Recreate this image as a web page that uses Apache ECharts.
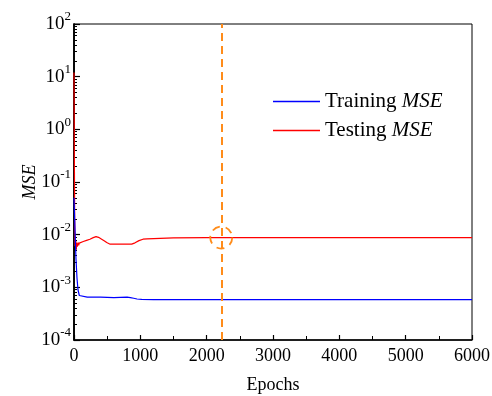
<!DOCTYPE html>
<html>
<head>
    <meta charset="utf-8">
    <script src="https://cdn.jsdelivr.net/npm/echarts@6/dist/echarts.min.js"></script>
    <style>
        html, body { margin: 0; padding: 0; background: #fff; }
        #main { width: 492px; height: 396px; }
    </style>
</head>
<body>
    <div id="main"></div>
    <script>
        // Training MSE (blue)
        var trainEpochs = [0, 10, 20, 30, 45, 60, 80, 100, 200, 400, 600, 800, 850, 900, 950, 1020, 1200, 2000, 3000, 4000, 5000, 6000];
        var trainMSE = [0.05, 0.02, 0.008, 0.0035, 0.0015, 0.0009, 0.0007, 0.00066, 0.00065, 0.00065, 0.00064, 0.00065, 0.00064, 0.00062, 0.0006, 0.00059, 0.000585, 0.000585, 0.000585, 0.000585, 0.000585, 0.000585];

        // Testing MSE (red)
        var testEpochs = [0, 5, 10, 15, 20, 25, 30, 35, 40, 50, 60, 70, 80, 100, 140, 190, 240, 290, 332, 370, 417, 460, 493, 515, 545, 700, 870, 920, 980, 1040, 1100, 1300, 1500, 2000, 3000, 4000, 5000, 6000];
        var testMSE = [12, 0.4, 0.02, 0.006, 0.008, 0.0055, 0.0075, 0.0052, 0.0068, 0.0059, 0.0071, 0.0063, 0.0069, 0.0068, 0.0074, 0.0078, 0.0082, 0.0088, 0.0092, 0.0089, 0.0082, 0.0076, 0.0071, 0.0068, 0.0066, 0.0066, 0.0066, 0.007, 0.0077, 0.0082, 0.0083, 0.0085, 0.0087, 0.0088, 0.0088, 0.0088, 0.0088, 0.0088];

        var yExponents = [-4, -3, -2, -1, 0, 1, 2];
        var markEpoch = 2220;
        var markValue = 0.0088;

        var font = 'Liberation Serif';
        var orange = '#ff8c1a';

        function pair(xs, ys) {
            return xs.map(function (x, i) { return [x, ys[i]]; });
        }

        // minor log ticks: 2..9 times each decade
        var minorTicks = [];
        yExponents.slice(0, -1).forEach(function (e) {
            for (var k = 2; k <= 9; k++) {
                minorTicks.push(+(k * Math.pow(10, e)).toPrecision(3));
            }
        });

        var chart = echarts.init(document.getElementById('main'));

        var option = {
            animation: false,
            textStyle: { fontFamily: font, color: '#000' },
            grid: {
                left: 74, right: 20, top: 24, bottom: 56,
                outerBoundsMode: 'none',
                show: true, borderColor: '#000', borderWidth: 1
            },
            legend: {
                orient: 'vertical',
                left: 268,
                top: 86,
                icon: 'rect',
                itemWidth: 47,
                itemHeight: 1.5,
                itemGap: 8,
                data: ['Training MSE', 'Testing MSE'],
                formatter: function (name) {
                    return '{n|' + name.replace(' MSE', ' ') + '}{i|MSE}';
                },
                textStyle: {
                    rich: {
                        n: { fontFamily: font, fontSize: 21, color: '#000', lineHeight: 20 },
                        i: { fontFamily: font, fontSize: 21, fontStyle: 'italic', color: '#000', lineHeight: 20 }
                    }
                }
            },
            xAxis: {
                type: 'value',
                min: 0,
                max: 6000,
                interval: 1000,
                name: 'Epochs',
                nameLocation: 'middle',
                nameGap: 36,
                nameMoveOverlap: false,
                nameTextStyle: { fontFamily: font, fontSize: 18, color: '#000' },
                axisLine: { onZero: false, lineStyle: { color: '#000', width: 1.5 } },
                axisTick: { inside: true, length: 5, lineStyle: { color: '#000', width: 1.2 } },
                minorTick: { show: true, splitNumber: 2, length: 4, lineStyle: { color: '#000', width: 1 } },
                axisLabel: {
                    fontFamily: font, fontSize: 18, color: '#000', margin: 7,
                    formatter: function (v) { return String(v); }
                },
                splitLine: { show: false }
            },
            yAxis: [{
                type: 'log',
                logBase: 10,
                min: 1e-4,
                max: 1e2,
                name: 'MSE',
                nameLocation: 'middle',
                nameGap: 35,
                nameMoveOverlap: false,
                nameTextStyle: { fontFamily: font, fontSize: 18, fontStyle: 'italic', color: '#000' },
                axisLine: { lineStyle: { color: '#000', width: 1.5 } },
                axisTick: { inside: true, length: 6, lineStyle: { color: '#000', width: 1.2 } },
                axisLabel: {
                    margin: 3,
                    formatter: function (v) {
                        return '{b|10}{s|' + Math.round(Math.log10(v)) + '}';
                    },
                    rich: {
                        b: { fontFamily: font, fontSize: 19, color: '#000', lineHeight: 27 },
                        s: { fontFamily: font, fontSize: 13, color: '#000', lineHeight: 13, verticalAlign: 'top' }
                    }
                },
                splitLine: { show: false }
            }, {
                // second log axis, only for the minor ticks 2..9 of each decade
                type: 'log',
                logBase: 10,
                position: 'left',
                min: 1e-4,
                max: 1e2,
                axisLine: { show: true, lineStyle: { color: '#000', width: 1.5 } },
                axisLabel: {
                    show: true,
                    hideOverlap: false,
                    customValues: minorTicks,
                    fontSize: 2,
                    color: 'rgba(255,255,255,0)',
                    formatter: function () { return '.'; }
                },
                splitLine: { show: false },
                axisTick: {
                    show: true,
                    inside: true,
                    length: 3,
                    customValues: minorTicks,
                    lineStyle: { color: '#000', width: 1 }
                }
            }],
            series: [{
                name: 'Training MSE',
                type: 'line',
                symbol: 'none',
                color: '#0000ff',
                lineStyle: { width: 1.2 },
                data: pair(trainEpochs, trainMSE),
                z: 3
            }, {
                name: 'Testing MSE',
                type: 'line',
                symbol: 'none',
                color: '#ff0000',
                lineStyle: { width: 1.2 },
                data: pair(testEpochs, testMSE),
                z: 2,
                markLine: {
                    silent: true,
                    symbol: 'none',
                    label: { show: false },
                    lineStyle: { color: orange, type: [8, 5], width: 2 },
                    data: [{ xAxis: markEpoch }]
                },
                markPoint: {
                    silent: true,
                    symbol: 'circle',
                    symbolSize: 22,
                    label: { show: false },
                    itemStyle: { color: 'transparent', borderColor: orange, borderWidth: 1.8, borderType: [8, 6] },
                    data: [{ coord: [markEpoch, markValue] }]
                }
            }]
        };

        chart.setOption(option);
    </script>
</body>
</html>
